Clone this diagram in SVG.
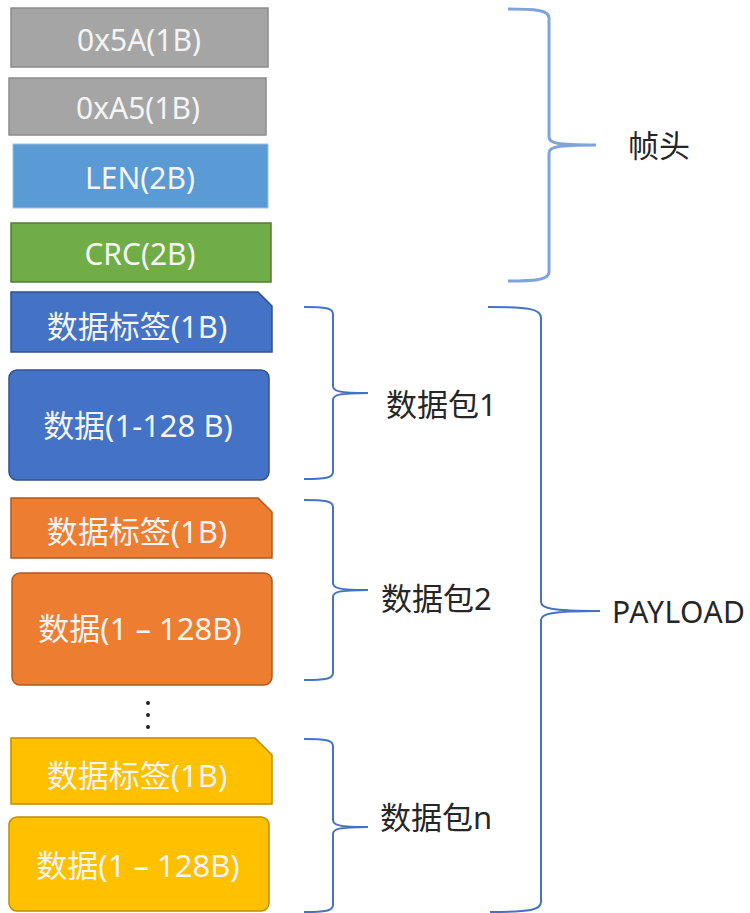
<svg xmlns="http://www.w3.org/2000/svg" width="750" height="913" viewBox="0 0 750 913">
<style>
.t{font-family:"Noto Sans","Noto Sans CJK SC",sans-serif;font-size:31px;fill:#f4f4f4;text-anchor:middle;dominant-baseline:central}
.h{font-size:30px}
.l{font-family:"Noto Sans","Noto Sans CJK SC",sans-serif;font-size:31px;fill:#262626;dominant-baseline:central}
.br{fill:none;stroke:#4472c4;stroke-width:2}
.gray{fill:#a5a5a5;stroke:#8c8c8c;stroke-width:1.5}
.blue{fill:#4472c4;stroke:#2f528f;stroke-width:1.5}
.orange{fill:#ed7d31;stroke:#ae5a21;stroke-width:1.5}
.yellow{fill:#ffc000;stroke:#bc8c00;stroke-width:1.5}
</style>
<rect width="750" height="913" fill="#ffffff"/>
<g id="hdr1"><rect class="gray" x="11" y="8" width="257" height="59"/><text class="t h" x="139" y="39">0x5A(1B)</text></g>
<g id="hdr2"><rect class="gray" x="9" y="78" width="257" height="57"/><text class="t h" x="138" y="107">0xA5(1B)</text></g>
<g id="len"><rect x="13" y="144" width="255" height="64" fill="#5b9bd5" stroke="#9cc2e5" stroke-width="1"/><text class="t h" x="140" y="177">LEN(2B)</text></g>
<g id="crc"><rect x="11" y="223" width="260" height="59" fill="#70ad47" stroke="#507e32" stroke-width="1.5"/><text class="t h" x="140" y="253">CRC(2B)</text></g>
<g id="tag1"><path class="blue" d="M11,292 H258 L272,306 V352 H11 Z"/><text class="t" x="137" y="326">数据标签(1B)</text></g>
<g id="data1"><rect class="blue" x="9" y="370" width="260" height="110" rx="8"/><text class="t" x="138" y="425">数据(1-128 B)</text></g>
<g id="tag2"><path class="orange" d="M11,498 H258 L272,512 V558 H11 Z"/><text class="t" x="137" y="531">数据标签(1B)</text></g>
<g id="data2"><rect class="orange" x="12" y="573" width="260" height="112" rx="8"/><text class="t" x="140" y="628">数据(1 – 128B)</text></g>
<g id="dots" fill="#222"><circle cx="148" cy="703" r="2"/><circle cx="148" cy="715" r="2"/><circle cx="148" cy="727" r="2"/></g>
<g id="tagn"><path class="yellow" d="M11,738 H255 L272,755 V804 H11 Z"/><text class="t" x="137" y="775">数据标签(1B)</text></g>
<g id="datan"><rect class="yellow" x="9" y="817" width="260" height="94" rx="8"/><text class="t" x="138" y="865">数据(1 – 128B)</text></g>
<g id="connectors">
<path d="M508,9 C535,9 549,10 549,18 L549,137 C549,143 556,145 596,145 C556,145 549,147 549,153 L549,272 C549,280 535,281 508,281" fill="none" stroke="#7fa3dc" stroke-width="3"/>
<path class="br" d="M304,307 C325,307 333,308 333,314 L333,386 C333,391 338,393 368,393 C338,393 333,395 333,400 L333,472 C333,478 325,479 304,479"/>
<path class="br" d="M304,500 C325,500 333,501 333,507 L333,583 C333,588 338,590 368,590 C338,590 333,592 333,597 L333,673 C333,679 325,680 304,680"/>
<path class="br" d="M304,739 C325,739 333,740 333,746 L333,820 C333,825 338,827 368,827 C338,827 333,829 333,834 L333,905 C333,911 325,912 304,912"/>
<path class="br" d="M488,307 C530,307 541,309 541,318 L541,602 C541,608 550,611 600,611 C550,611 541,614 541,620 L541,902 C541,910 530,912 490,912"/>
</g>
<g id="lbl-head"><text class="l" x="628" y="145">帧头</text></g>
<g id="lbl-p1"><text class="l" x="386" y="404">数据包1</text></g>
<g id="lbl-p2"><text class="l" x="381" y="598">数据包2</text></g>
<g id="lbl-pn"><text class="l" x="380" y="817">数据包n</text></g>
<g id="lbl-payload"><text class="l" x="612" y="611" style="font-size:30px;letter-spacing:0.5px">PAYLOAD</text></g>
</svg>
